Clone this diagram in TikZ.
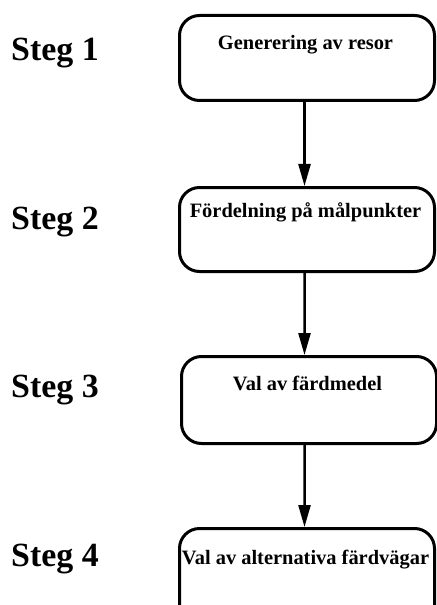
\documentclass[tikz,border=0pt]{standalone}
\usepackage{fontspec}
\setmainfont{Liberation Serif}
\usetikzlibrary{arrows.meta}

\tikzset{
  stepbox/.style={draw, line width=3bp, rounded corners=20bp, inner sep=0pt,
    minimum width=255bp, anchor=north west},
  boxtext/.style={font=\bfseries\fontsize{20.5}{24}\selectfont, inner sep=0pt, anchor=base},
  steglabel/.style={font=\bfseries\fontsize{34}{38}\selectfont, inner sep=0pt, anchor=base west},
  flow/.style={line width=2.5bp, -{Triangle[length=22bp, width=12bp]}}
}

\begin{document}
\begin{tikzpicture}[x=1bp, y=-1bp]
  \useasboundingbox (0,0) rectangle (437,605);
  \clip (0,0) rectangle (437,605);

  % process boxes (the last one runs past the lower edge)
  \node[stepbox, minimum height=85bp] (b1) at (178,14) {};
  \node[stepbox, minimum height=84bp] (b2) at (178,186) {};
  \node[stepbox, minimum height=87bp] (b3) at (180,355) {};
  \node[stepbox, minimum height=110bp] (b4) at (178,527) {};

  % box captions
  \node[boxtext] (t1) at (305.5,50) {Generering av resor};
  \node[boxtext] (t2) at (305.5,217) {Fördelning på målpunkter};
  \node[boxtext] (t3) at (307.5,390) {Val av färdmedel};
  \node[boxtext] (t4) at (305.5,564) {Val av alternativa färdvägar};

  % step labels
  \node[steglabel] (s1) at (11,61) {Steg 1};
  \node[steglabel] (s2) at (11,229) {Steg 2};
  \node[steglabel] (s3) at (11,397) {Steg 3};
  \node[steglabel] (s4) at (11,566) {Steg 4};

  % connectors
  \draw[flow] ([xshift=-2.5bp]b1.south) -- ([xshift=-2.5bp]b2.north);
  \draw[flow] ([xshift=-2.5bp]b2.south) -- ([xshift=-4.5bp]b3.north);
  \draw[flow] ([xshift=-4.5bp]b3.south) -- ([xshift=-2.5bp]b4.north);
\end{tikzpicture}
\end{document}
